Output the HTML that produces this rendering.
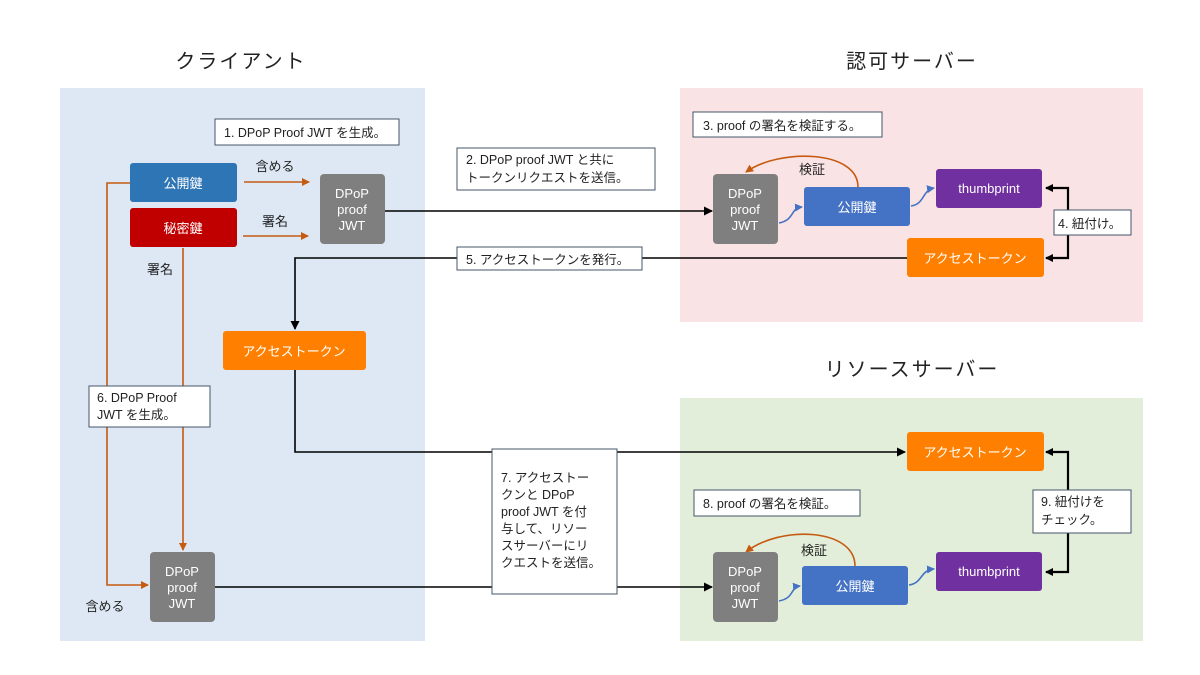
<!DOCTYPE html>
<html><head><meta charset="utf-8"><style>
html,body{margin:0;padding:0;background:#fff;}
svg{display:block;font-family:"Liberation Sans","Noto Sans CJK JP",sans-serif;}
</style></head><body>
<svg width="1200" height="675" viewBox="0 0 1200 675" xmlns="http://www.w3.org/2000/svg">
<defs>
<marker id="ob" markerWidth="8" markerHeight="8" refX="7" refY="4" orient="auto" markerUnits="userSpaceOnUse"><path d="M0,0 L8,4 L0,8 Z" fill="#c55a11"/></marker>
<marker id="bk" markerWidth="9" markerHeight="9" refX="8" refY="4.5" orient="auto" markerUnits="userSpaceOnUse"><path d="M0,0 L9,4.5 L0,9 Z" fill="#000"/></marker>
<marker id="bl" markerWidth="8" markerHeight="8" refX="7" refY="4" orient="auto" markerUnits="userSpaceOnUse"><path d="M0,0 L8,4 L0,8 Z" fill="#4472c4"/></marker>
</defs>
<rect x="60" y="88" width="365" height="553" fill="#dde8f4"/>
<rect x="680" y="88" width="463" height="234" fill="#f9e3e4"/>
<rect x="680" y="398" width="463" height="243" fill="#e2eed9"/>

<g font-size="20" fill="#222" text-anchor="middle" letter-spacing="2">
<text x="241" y="68">クライアント</text>
<text x="912" y="68">認可サーバー</text>
<text x="912" y="376">リソースサーバー</text>
</g>

<!-- orange connectors -->
<g stroke="#c55a11" stroke-width="1.6" fill="none">
<line x1="244" y1="182" x2="309" y2="182" marker-end="url(#ob)"/>
<line x1="243" y1="236" x2="308" y2="236" marker-end="url(#ob)"/>
<polyline points="130,183 107,183 107,585 148,585" marker-end="url(#ob)"/>
<line x1="183" y1="248" x2="183" y2="550" marker-end="url(#ob)"/>
<path d="M858,187 C858,150 780,148 746,172" marker-end="url(#ob)"/>
<path d="M855,566 C855,528 780,525 746,552" marker-end="url(#ob)"/>
</g>

<!-- black connectors -->
<g stroke="#000" stroke-width="1.6" fill="none">
<line x1="385" y1="211" x2="712" y2="211" marker-end="url(#bk)"/>
<polyline points="907,258 295,258 295,329" marker-end="url(#bk)"/>
<polyline points="295,370 295,452 905,452" marker-end="url(#bk)"/>
<line x1="213" y1="587" x2="712" y2="587" marker-end="url(#bk)"/>
</g>
<g stroke="#000" stroke-width="2.2" fill="none">
<polyline points="1046,188 1068,188 1068,258 1046,258"/>
<polyline points="1046,452 1068,452 1068,572 1046,572"/>
</g>
<g fill="#000">
<path d="M1045,188 L1053,184 L1053,192 Z"/><path d="M1045,258 L1053,254 L1053,262 Z"/>
<path d="M1045,452 L1053,448 L1053,456 Z"/><path d="M1045,572 L1053,568 L1053,576 Z"/>
</g>

<!-- blue squiggles -->
<g stroke="#4472c4" stroke-width="1.6" fill="none">
<path d="M779,223 C795,220 790,208 802,207" marker-end="url(#bl)"/>
<path d="M911,206 C925,204 922,190 934,188" marker-end="url(#bl)"/>
<path d="M779,601 C795,598 790,587 800,586" marker-end="url(#bl)"/>
<path d="M909,585 C923,583 920,570 934,569" marker-end="url(#bl)"/>
</g>

<!-- boxes -->
<g font-size="13" fill="#fff" text-anchor="middle">
<rect x="130" y="163" width="107" height="39" rx="3" fill="#2e75b6"/><text x="183" y="188">公開鍵</text>
<rect x="130" y="208" width="107" height="39" rx="3" fill="#c00000"/><text x="183" y="233">秘密鍵</text>
<rect x="320" y="174" width="65" height="70" rx="4" fill="#7f7f7f"/>
<text x="352" y="198">DPoP</text><text x="352" y="214">proof</text><text x="352" y="230">JWT</text>
<rect x="150" y="552" width="65" height="70" rx="4" fill="#7f7f7f"/>
<text x="182" y="576">DPoP</text><text x="182" y="592">proof</text><text x="182" y="608">JWT</text>
<rect x="223" y="331" width="143" height="39" rx="3" fill="#ff8000"/><text x="294" y="356">アクセストークン</text>

<rect x="713" y="174" width="65" height="70" rx="4" fill="#7f7f7f"/>
<text x="745" y="198">DPoP</text><text x="745" y="214">proof</text><text x="745" y="230">JWT</text>
<rect x="804" y="187" width="106" height="39" rx="3" fill="#4472c4"/><text x="857" y="212">公開鍵</text>
<rect x="936" y="169" width="106" height="39" rx="3" fill="#7030a0"/><text x="989" y="193">thumbprint</text>
<rect x="907" y="238" width="137" height="39" rx="3" fill="#ff8000"/><text x="975" y="263">アクセストークン</text>

<rect x="907" y="432" width="137" height="39" rx="3" fill="#ff8000"/><text x="975" y="457">アクセストークン</text>
<rect x="936" y="552" width="106" height="39" rx="3" fill="#7030a0"/><text x="989" y="576">thumbprint</text>
<rect x="802" y="566" width="106" height="39" rx="3" fill="#4472c4"/><text x="855" y="591">公開鍵</text>
<rect x="713" y="552" width="65" height="70" rx="4" fill="#7f7f7f"/>
<text x="745" y="576">DPoP</text><text x="745" y="592">proof</text><text x="745" y="608">JWT</text>
</g>

<!-- plain labels -->
<g font-size="13" fill="#222" text-anchor="middle">
<text x="275" y="171">含める</text>
<text x="275" y="226">署名</text>
<text x="160" y="274">署名</text>
<text x="105" y="611">含める</text>
<text x="812" y="174">検証</text>
<text x="814" y="555">検証</text>
</g>

<!-- note boxes -->
<g stroke="#44546a" stroke-width="1" fill="#fff">
<rect x="215" y="119" width="184" height="26"/>
<rect x="457" y="148" width="198" height="42"/>
<rect x="457" y="247" width="185" height="23"/>
<rect x="693" y="112" width="189" height="25"/>
<rect x="1054" y="210" width="77" height="25"/>
<rect x="89" y="386" width="121" height="41"/>
<rect x="492" y="449" width="125" height="145"/>
<rect x="694" y="490" width="166" height="26"/>
<rect x="1033" y="490" width="98" height="43"/>
</g>
<g font-size="12.5" fill="#222">
<text x="224" y="137">1. DPoP Proof JWT を生成。</text>
<text x="466" y="164">2. DPoP proof JWT と共に</text>
<text x="466" y="182">トークンリクエストを送信。</text>
<text x="466" y="264">5. アクセストークンを発行。</text>
<text x="703" y="130">3. proof の署名を検証する。</text>
<text x="1058" y="228">4. 紐付け。</text>
<text x="97" y="402">6. DPoP Proof</text>
<text x="97" y="419">JWT を生成。</text>
<text x="501" y="482">7. アクセストー</text>
<text x="501" y="499">クンと DPoP</text>
<text x="501" y="516">proof JWT を付</text>
<text x="501" y="533">与して、リソー</text>
<text x="501" y="550">スサーバーにリ</text>
<text x="501" y="567">クエストを送信。</text>
<text x="703" y="508">8. proof の署名を検証。</text>
<text x="1041" y="506">9. 紐付けを</text>
<text x="1041" y="524">チェック。</text>
</g>
</svg>
</body></html>
